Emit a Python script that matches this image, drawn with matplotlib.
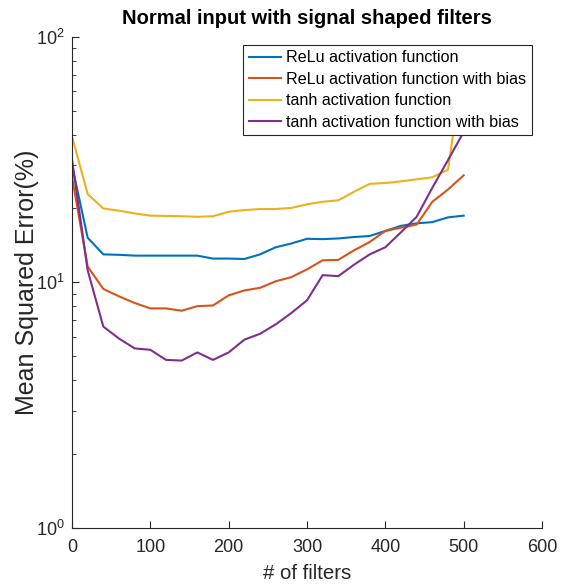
import matplotlib
matplotlib.use("Agg")
import matplotlib.pyplot as plt
from matplotlib.ticker import LogLocator, NullFormatter

plt.rcParams['font.family'] = ['Liberation Sans', 'DejaVu Sans']

filters = list(range(0, 501, 20))
relu = [30.0, 15.2, 13.0, 12.95, 12.85, 12.85, 12.85, 12.85, 12.85, 12.5, 12.5, 12.45,
        13.0, 13.9, 14.4, 15.05, 15.0, 15.1, 15.3, 15.45, 16.2, 17.0, 17.4, 17.6, 18.4, 18.7]
relu_bias = [26.9, 11.6, 9.4, 8.77, 8.24, 7.83, 7.83, 7.66, 8.0, 8.05, 8.85, 9.27,
             9.5, 10.1, 10.5, 11.3, 12.3, 12.35, 13.5, 14.6, 16.2, 16.7, 17.2, 21.3, 23.9, 27.3]
tanh = [39.4, 22.9, 20.0, 19.6, 19.1, 18.7, 18.65, 18.6, 18.5, 18.6, 19.4, 19.7,
        19.9, 19.9, 20.1, 20.8, 21.3, 21.6, 23.4, 25.2, 25.4, 25.8, 26.3, 26.8, 28.8, 80.0]
tanh_bias = [31.7, 11.2, 6.6, 5.9, 5.38, 5.31, 4.83, 4.80, 5.18, 4.83, 5.18, 5.84,
             6.17, 6.74, 7.5, 8.45, 10.7, 10.6, 11.8, 13.0, 13.9, 16.0, 18.5, 24.3, 31.5, 41.0]
labels = ["ReLu activation function", "ReLu activation function with bias",
          "tanh activation function", "tanh activation function with bias"]
colors = ["#0072BD", "#D95319", "#EDB120", "#7E2F8E"]
title = "Normal input with signal shaped filters"
xlabel = "# of filters"
ylabel = "Mean Squared Error(%)"
xticks = [0, 100, 200, 300, 400, 500, 600]

fig = plt.figure(figsize=(5.64, 5.87), dpi=100)
ax = fig.add_axes([72/564, 1-527.7/587, 470/564, 490.7/587])

for ys, lab, c in zip([relu, relu_bias, tanh, tanh_bias], labels, colors):
    ax.plot(filters, ys, color=c, lw=1.5, label=lab)

ax.set_yscale('log')
ax.set_ylim(1, 100)
ax.set_xlim(0, 600)
ax.set_xticks(xticks)
ax.yaxis.set_major_locator(LogLocator(base=10, numticks=5))
ax.yaxis.set_minor_locator(LogLocator(base=10, subs=range(2, 10), numticks=20))
ax.yaxis.set_minor_formatter(NullFormatter())

axc = '#262626'
for s in ['top', 'right']:
    ax.spines[s].set_visible(False)
for s in ['left', 'bottom']:
    ax.spines[s].set_color(axc)
    ax.spines[s].set_linewidth(0.8)
ax.tick_params(which='major', direction='in', length=5, width=0.8, color=axc,
               labelcolor=axc, labelsize=13, pad=5)
ax.tick_params(axis='x', which='major', pad=8)
ax.tick_params(which='minor', direction='in', length=3, width=0.6, color=axc)

ax.set_title(title, fontsize=14.5, fontweight='bold', color='black', pad=9)
ax.set_xlabel(xlabel, fontsize=14.7, color=axc, labelpad=6)
ax.set_ylabel(ylabel, fontsize=18, color=axc, labelpad=-2)

leg = ax.legend(loc='upper right', bbox_to_anchor=(0.978, 0.984), borderaxespad=0,
                fontsize=11.6, frameon=True, fancybox=False, edgecolor=axc,
                framealpha=1.0, handlelength=2.0, handletextpad=0.3,
                labelspacing=0.4, borderpad=0.35)
leg.get_frame().set_linewidth(0.8)
for t in leg.get_texts():
    t.set_color('black')

fig.savefig('out.png', dpi=100)
